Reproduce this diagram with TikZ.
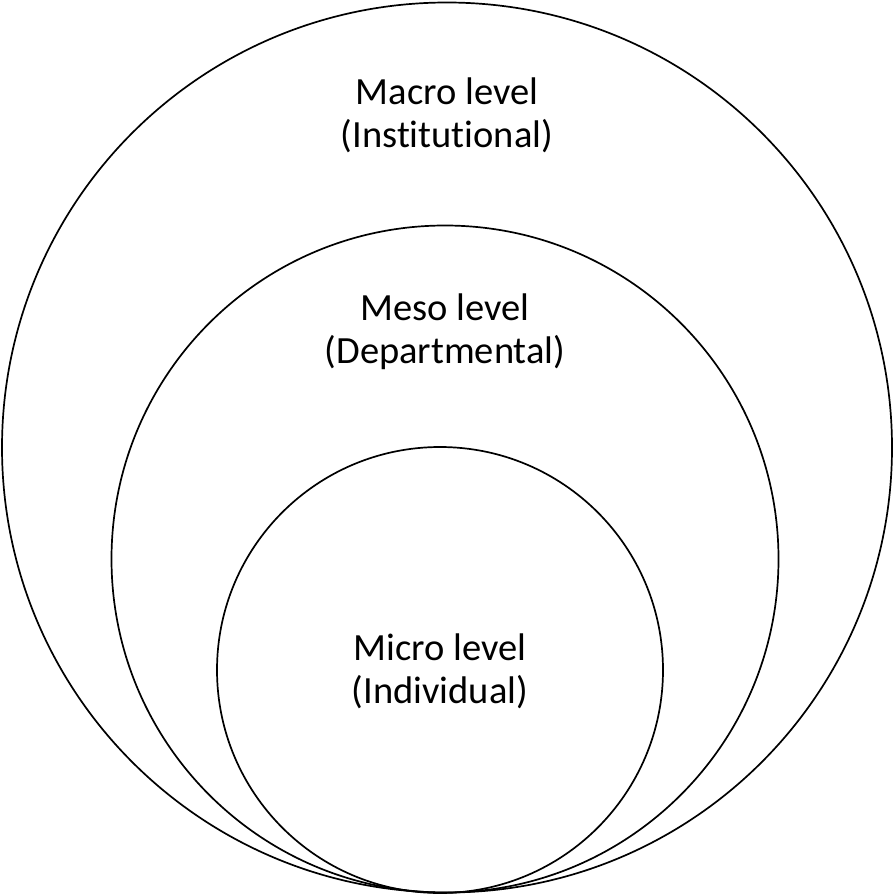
\documentclass[tikz,border=0pt]{standalone}
\usepackage{fontspec}
\setmainfont[Ligatures=NoCommon]{Carlito}
\usepackage{tikz}
\usetikzlibrary{positioning}

\begin{document}
\begin{tikzpicture}[
  x=1pt, y=-1pt,
  every node/.style={font=\fontsize{38.5}{43}\selectfont},
  ring/.style={draw, circle, line width=1.7pt, inner sep=0pt},
  levellabel/.style={align=center, inner sep=0pt}]
\useasboundingbox (0,0) rectangle (894,896);
\node[ring, minimum size=890pt] (macro) at (447,447.5) {};
\node[ring, minimum size=667pt] (meso) at (445,559) {};
\node[ring, minimum size=446pt] (micro) at (440,670) {};
\node[levellabel] (macrotext) at (447,115) {Macro level\\(Institutional)};
\node[levellabel] (mesotext) at (445,332) {Meso level\\(Departmental)};
\node[levellabel] (microtext) at (440,671) {Micro level\\(Individual)};
\end{tikzpicture}
\end{document}
